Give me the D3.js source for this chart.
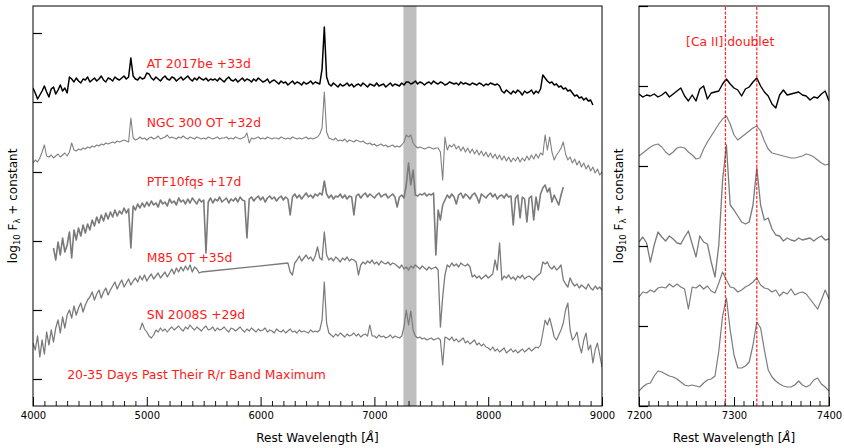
<!DOCTYPE html>
<html><head><meta charset="utf-8">
<script src="https://cdn.jsdelivr.net/npm/d3@7"></script>
<style>body{margin:0;background:#fff}svg{display:block;font-family:"DejaVu Sans",sans-serif}</style>
</head><body><svg id="c" width="844" height="448"></svg>
<script>
// ---------------- DATA ----------------
const leftMajorX = [4000, 5000, 6000, 7000, 8000, 9000];
const rightMajorX = [7200, 7300, 7400];
const leftTicksY = [27, 96, 165, 234, 304, 373];
const rightTicksY = [0, 80, 160, 240, 320, 400];
const shadeRange = [7255, 7370];
const caLines = [7291, 7324];
const names = ["AT 2017be +33d", "NGC 300 OT +32d", "PTF10fqs +17d", "M85 OT +35d", "SN 2008S +29d"];
const epochNote = "20-35 Days Past Their R/r Band Maximum";
const caNote = "[Ca II] doublet";

// left panel: log flux (relative) on regular wavelength grids, plus constant offsets
const offsets = [321, 266, 206, 136, 71];
const gridStep = 20;
const atStart = 4000;
const atFlux = [-3,-8,-14,-10,-6,-1,-7,-12,-4,-2,-9,-5,0,-6,-3,-8,8,
6,3,7,4,2,6,5,8,3,5,7,4,6,9,5,3,7,6,4,8,6,5,7,9,6,8,
27,
9,6,5,8,6,7,
12,11,
7,5,8,6,4,7,9,6,5,8,7,4,6,8,5,7,9,6,4,7,5,8,6,5,7,4,6,5,
6,4,7,5,3,6,8,5,4,6,3,5,7,4,6,5,3,6,4,7,5,3,4,6,2,4,5,
3,1,4,2,3,0,2,4,1,3,2,0,3,1,2,4,1,3,2,1,
16,58,8,
1,-1,2,0,-2,1,-1,0,2,-1,1,-2,0,1,-1,2,0,-2,1,0,-1,2,-1,0,1,-2,0,2,-1,1,0,-1,2,0,3,
3,1,2,4,1,3,2,0,2,3,1,4,2,1,3,2,0,1,3,2,1,2,0,3,1,2,1,0,2,1,0,2,1,-1,1,0,2,1,0,1,-1,
-6,-8,-5,-7,-9,-6,-8,-5,-7,-10,-6,-8,-7,-5,-9,-6,-8,-4,
10,7,4,2,3,0,1,-2,-1,-4,-3,-6,-5,-8,-11,-10,-13,-12,-15,-13,-16,-15,-20];

const ngcStart = 4000;
const ngcFlux = [-23,-20,-22,-18,-12,
-5,
-16,-17,-15,-18,-16,-14,-17,-15,-13,-16,-12,
-3,
-10,-11,-9,-10,-8,-9,-7,-8,-6,-7,-5,-6,-4,-5,-3,-4,-3,-2,-3,-1,-2,-1,0,-1,-2,
22,
2,0,1,3,1,2,0,2,3,1,2,4,1,2,3,5,2,3,2,1,3,2,4,2,1,3,2,1,3,2,1,
2,1,3,2,1,2,3,1,2,2,3,1,2,1,3,2,1,2,3,
7,-3,
2,1,2,3,1,2,1,3,2,1,2,2,1,3,2,1,2,1,3,2,1,2,1,2,3,1,2,1,
2,3,6,12,48,8,2,
1,0,2,-1,0,-1,1,-2,0,-1,-2,0,-1,-2,-1,
-3,-4,-3,-5,-4,-6,-5,-4,-6,-5,-7,-6,-5,-7,-6,-7,-5,
-2,5,3,5,-3,-6,
-8,-7,-8,-9,-8,-7,-8,-9,-8,-8,
-12,-40,3,-10,-5,
-7,-4,-9,-6,-11,-7,-12,-8,-13,-9,-14,-10,-15,-11,-16,-12,-17,-13,-18,-14,-19,-15,-20,-16,-21,-17,-22,-18,-21,-17,-22,-18,-21,-16,-20,-15,-19,-14,-18,-13,-15,
5,-10,3,-12,-20,-15,-12,-8,-2,
-14,-20,-17,-23,-19,-25,-21,-27,-23,-29,-25,-31,-27,-33,-29,-35,-32];

const ptfStart = 4180;
const ptfFlux = [-48,-60,-42,-55,-38,-52,-45,
-32,-58,-30,-40,-28,-36,-25,-33,-24,-30,
-20,-26,-17,-23,-15,-21,-13,-19,-12,-17,-10,-16,-11,-14,-8,-13,-9,
-48,
-6,-10,-4,-8,-3,-7,-2,-6,-1,-5,-3,-7,0,-4,-2,-6,1,-3,-1,-5,2,-2,0,-4,1,-3,2,-1,-4,1,-2,0,
-53,
-2,2,-3,1,-1,3,-2,0,2,-3,1,-1,2,-2,3,0,-1,
-38,
1,3,-1,2,4,0,3,-2,2,4,1,3,-1,2,4,0,3,1,
-15,
3,6,2,5,1,4,7,3,5,2,6,4,7,5,
19,
6,2,5,1,4,3,6,2,5,1,4,3,
-15,
4,6,2,5,7,3,6,4,2,5,7,3,5,6,2,4,6,3,-7,
3,5,2,15,37,15,30,5,
4,6,5,7,4,6,5,7,
-55,-10,-20,-5,0,
5,2,6,3,-4,5,7,2,6,4,1,5,7,3,-3,6,4,2,5,7,3,6,1,4,5,2,6,
3,4,-25,2,5,-18,3,1,-22,2,4,-20,3,
-10,6,12,15,8,12,-2,5,0,-5,5,13];

const m85BlueStart = 4000;
const m85BlueFlux = [-73,-80,-66,-87,-70,-84,
-62,-75,-60,-72,-58,
-50,-63,-47,-58,-45,
-40,-48,-36,-45,-38,-33,-42,-35,-30,
-27,-22,-30,-24,-20,-28,-22,-18,-25,-20,
-16,-12,-19,-14,-10,-17,-13,-9,-15,-11,
-8,-12,-6,-10,-5,-11,-7,-4,-9,-6,-3,-8,-5,-2,-7,
-3,1,-4,2,-2,3,-1,4,0,5,-2,3,1,-3,-2];
const m85RedStart = 6240;
const m85RedFlux = [7,-2,-5,7,
10,14,9,12,15,11,13,9,14,
23,12,10,38,
15,
10,12,9,13,11,8,12,10,13,9,11,10,
8,-5,5,
8,6,9,7,10,6,8,5,9,7,6,8,5,7,6,
4,2,5,1,3,0,4,2,5,3,1,4,2,0,3,1,2,3,
0,-57,-27,-5,
5,3,7,4,6,3,7,5,4,6,3,
-7,-5,-8,-6,-9,-7,-5,-8,-6,-4,
10,0,27,
-10,
-6,-8,-5,-9,-7,-10,-6,-8,-5,-9,-7,-6,-8,-10,-7,-5,-3,
8,6,8,
3,1,4,0,2,5,
-10,-14,-17,
-8,
-13,-16,-14,-18,-15,-17,-19,-14,-18,-20,-16,-19,-17,-20];

const snStart = 4940;
const snFlux = [5,12,6,3,
-1,-3,0,
5,3,7,4,6,3,
6,8,5,7,9,6,4,8,6,10,7,5,8,6,4,7,9,5,6,8,4,7,5,6,8,5,3,7,6,4,6,8,5,3,6,4,7,5,3,6,4,5,7,3,5,4,2,6,4,3,5,2,4,6,3,4,2,5,3,4,
3,2,5,3,4,
3,5,15,53,12,
2,
0,-2,1,-1,2,0,-2,1,-1,0,2,-1,1,-2,0,1,-1,
10,-1,
-1,-3,0,-2,-1,-3,-2,0,-3,-1,-2,-3,-1,
8,25,10,24,5,-1,
-3,-2,-4,-3,-5,-4,-3,-5,-4,-3,
-5,-30,-2,
-3,-5,-2,-6,-4,-7,-5,-3,-8,-6,-9,-7,-5,-10,-8,-11,-9,-12,
-13,-15,-12,-16,-14,-17,-15,-13,-18,-16,-14,-17,-15,-18,-16,-14,-17,-15,-13,-16,-14,-12,-13,-10,
2,15,10,17,8,-2,-5,0,5,12,25,32,5,-5,-2,3,-10,-18,-5,2,-15,-10,-28,-15,-8,-20,-32];

// right panel: zoom on [Ca II], grid 7200..7400 step 4
const zoomStart = 7200, zoomStep = 4;
const atZoom = [312,309,311,310,312,309,311,314,309,312,315,318,310,305,311,305,317,320,307,313,314,315,322,327,322,318,316,310,317,319,324,328,320,314,310,302,298,311,316,311,312,313,314,311,310,306,309,308,312,315,305];
const ngcZoom = [250,253,256,259,261,262,259,254,251,254,258,259,258,254,251,247,248,257,264,270,276,282,287,290,282,271,266,269,272,275,278,280,275,265,257,253,252,251,250,249,248,248,249,250,252,251,249,246,243,241,242];
const ptfZoom = [164,169,163,144,161,174,169,165,170,167,163,162,169,175,162,149,170,164,162,144,129,161,226,261,201,196,190,184,182,184,201,238,201,186,188,177,171,170,165,168,166,165,168,166,167,168,165,168,170,166,167];
const m85Zoom = [109,114,113,116,114,118,119,118,122,119,122,119,117,97,119,118,121,117,120,115,113,123,134,126,119,118,114,116,119,121,124,128,121,118,117,114,116,110,114,112,117,111,113,114,112,107,102,97,106,116,107];
const snZoom = [15,19,22,23,30,35,34,32,30,29,27,24,21,20,21,20,19,23,26,27,30,55,90,108,76,51,38,38,40,44,61,84,78,56,36,29,25,22,20,19,19,21,25,21,19,21,26,28,22,19,15];

// ---------------- CHART ----------------
const svg = d3.select("#c");
const FONT = "DejaVu Sans";
const LABEL_SIZE = 12.4;
const xL = d3.scaleLinear().domain([4000, 9000]).range([33, 602]);
const xR = d3.scaleLinear().domain([7200, 7400]).range([639, 829]);
const yL = d3.scaleLinear().domain([0, 400]).range([406, 6]);
const yR = d3.scaleLinear().domain([0, 400]).range([406, 6]);

const grid = (start, step, vals, off) => vals.map((v, i) => [start + i * step, off + v]);

const leftSeries = [
  {pts: grid(atStart, gridStep, atFlux, offsets[0]), color: "#000", w: 1.5},
  {pts: grid(ngcStart, gridStep, ngcFlux, offsets[1]), color: "#808080", w: 1.1},
  {pts: grid(ptfStart, gridStep, ptfFlux, offsets[2]), color: "#7a7a7a", w: 1.6},
  {pts: grid(m85BlueStart, gridStep, m85BlueFlux, offsets[3]).concat(grid(m85RedStart, gridStep, m85RedFlux, offsets[3])), color: "#7a7a7a", w: 1.3},
  {pts: grid(snStart, gridStep, snFlux, offsets[4]), color: "#7a7a7a", w: 1.2}
];
const rightSeries = [
  {pts: grid(zoomStart, zoomStep, atZoom, 0), color: "#000", w: 1.4},
  {pts: grid(zoomStart, zoomStep, ngcZoom, 0), color: "#808080", w: 1.2},
  {pts: grid(zoomStart, zoomStep, ptfZoom, 0), color: "#7a7a7a", w: 1.3},
  {pts: grid(zoomStart, zoomStep, m85Zoom, 0), color: "#7a7a7a", w: 1.2},
  {pts: grid(zoomStart, zoomStep, snZoom, 0), color: "#7a7a7a", w: 1.2}
];

const defs = svg.append("defs");
defs.append("clipPath").attr("id", "clipL").append("rect")
  .attr("x", xL.range()[0]).attr("y", yL.range()[1])
  .attr("width", xL.range()[1] - xL.range()[0]).attr("height", yL.range()[0] - yL.range()[1]);
defs.append("clipPath").attr("id", "clipR").append("rect")
  .attr("x", xR.range()[0]).attr("y", yR.range()[1])
  .attr("width", xR.range()[1] - xR.range()[0]).attr("height", yR.range()[0] - yR.range()[1]);

// left panel
const gL = svg.append("g");
const plotL = gL.append("g").attr("clip-path", "url(#clipL)");
plotL.append("rect")
  .attr("x", xL(shadeRange[0])).attr("width", xL(shadeRange[1]) - xL(shadeRange[0]))
  .attr("y", yL.range()[1]).attr("height", yL.range()[0] - yL.range()[1])
  .attr("fill", "#bfbfbf");
const lineL = d3.line().x(d => xL(d[0])).y(d => yL(d[1]));
leftSeries.forEach(s => {
  plotL.append("path").attr("d", lineL(s.pts)).attr("fill", "none")
    .attr("stroke", s.color).attr("stroke-width", s.w).attr("stroke-linejoin", "round");
});

// labels (data coordinates)
const labelPos = [[5000, 338], [5000, 279], [5000, 220], [5000, 144], [5000, 87]];
names.forEach((n, i) => {
  gL.append("text").attr("x", xL(labelPos[i][0])).attr("y", yL(labelPos[i][1]))
    .attr("fill", "#ff1a1a").attr("font-size", LABEL_SIZE).attr("font-family", FONT).text(n);
});
gL.append("text").attr("x", xL(4300)).attr("y", yL(27))
  .attr("fill", "#ff1a1a").attr("font-size", LABEL_SIZE).attr("font-family", FONT).text(epochNote);

// right panel
const gR = svg.append("g");
const plotR = gR.append("g").attr("clip-path", "url(#clipR)");
const lineR = d3.line().x(d => xR(d[0])).y(d => yR(d[1]));
rightSeries.forEach(s => {
  plotR.append("path").attr("d", lineR(s.pts)).attr("fill", "none")
    .attr("stroke", s.color).attr("stroke-width", s.w).attr("stroke-linejoin", "round");
});
caLines.forEach(c => {
  plotR.append("line").attr("x1", xR(c)).attr("x2", xR(c))
    .attr("y1", yR.range()[0]).attr("y2", yR.range()[1])
    .attr("stroke", "#ff0000").attr("stroke-opacity", 0.85).attr("stroke-width", 1.2)
    .attr("stroke-dasharray", "3,1.5");
});
gR.append("text").attr("x", xR(7296)).attr("y", yR(360)).attr("text-anchor", "middle")
  .attr("fill", "#ff1a1a").attr("font-size", LABEL_SIZE).attr("font-family", FONT).text(caNote);

// axes
function axes(g, x, y, majors, minorStep, yticks) {
  const [x0, x1] = x.range();
  const [yb, yt] = y.range();
  const minors = d3.range(x.domain()[0], x.domain()[1] + 0.001, minorStep).filter(v => !majors.some(m => Math.abs(m - v) < 1e-6));
  const ax = g.append("g").attr("transform", `translate(0,${yb})`)
    .call(d3.axisBottom(x).tickValues(majors).tickSize(-9).tickPadding(6).tickFormat(d3.format("d")));
  ax.select(".domain").remove();
  ax.selectAll("text").attr("font-size", 10).attr("font-family", FONT).attr("fill", "#000");
  ax.selectAll("line").attr("stroke", "#000").attr("stroke-width", 1);
  const axm = g.append("g").attr("transform", `translate(0,${yb})`)
    .call(d3.axisBottom(x).tickValues(minors).tickSize(-5).tickFormat(""));
  axm.select(".domain").remove();
  axm.selectAll("line").attr("stroke", "#000").attr("stroke-width", 0.9);
  const ay = g.append("g").attr("transform", `translate(${x0},0)`)
    .call(d3.axisLeft(y).tickValues(yticks).tickSize(-9).tickFormat(""));
  ay.select(".domain").remove();
  ay.selectAll("line").attr("stroke", "#000").attr("stroke-width", 1.2);
  g.append("rect").attr("x", x0).attr("y", yt).attr("width", x1 - x0).attr("height", yb - yt)
    .attr("fill", "none").attr("stroke", "#000").attr("stroke-width", 1);
  // x label
  const xl = g.append("text").attr("x", (x0 + x1) / 2).attr("y", 442).attr("text-anchor", "middle")
    .attr("font-size", 12).attr("font-family", FONT).attr("fill", "#000");
  xl.append("tspan").text("Rest Wavelength [");
  xl.append("tspan").attr("font-style", "italic").text("Å");
  xl.append("tspan").text("]");
  // y label
  const yl = g.append("text").attr("transform", `translate(${x0 - 16},${(yb + yt) / 2}) rotate(-90)`)
    .attr("text-anchor", "middle").attr("font-size", 12).attr("font-family", FONT).attr("fill", "#000");
  yl.append("tspan").text("log");
  yl.append("tspan").attr("font-size", 8.5).attr("dy", 3).text("10");
  yl.append("tspan").attr("dy", -3).text(" F");
  yl.append("tspan").attr("font-size", 8.5).attr("dy", 3).text("λ");
  yl.append("tspan").attr("dy", -3).text("  + constant");
}
axes(gL, xL, yL, leftMajorX, 100, leftTicksY);
axes(gR, xR, yR, rightMajorX, 10, rightTicksY);
</script></body></html>
